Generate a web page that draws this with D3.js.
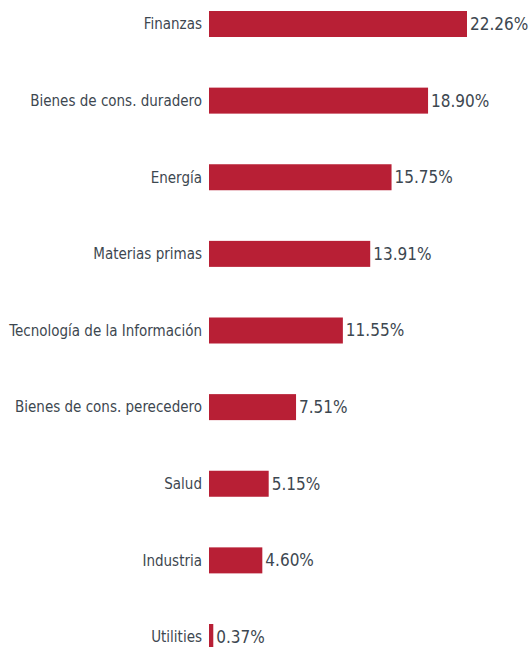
<!DOCTYPE html>
<html>
<head>
<meta charset="utf-8">
<script src="https://cdn.jsdelivr.net/npm/d3@7"></script>
<style>
  body { margin: 0; background: #fff; }
  text { font-family: "DejaVu Sans Condensed", "DejaVu Sans", sans-serif; }
</style>
</head>
<body>
<svg id="chart"></svg>
<script>
// Sector weights
const sectors = ["Finanzas", "Bienes de cons. duradero", "Energía", "Materias primas",
  "Tecnología de la Información", "Bienes de cons. perecedero", "Salud", "Industria", "Utilities"];
const weights = [22.26, 18.90, 15.75, 13.91, 11.55, 7.51, 5.15, 4.60, 0.37];

let width = 529, height = 647;

const svg = d3.select("#chart")
  .attr("width", width)
  .attr("height", height);

const x = d3.scaleLinear()
  .domain([0, 22.26])
  .range([209, 467]);

const y = d3.scalePoint()
  .domain(sectors)
  .range([24, 637]);

const barH = 26;

const rows = svg.selectAll(".row")
  .data(sectors.map((s, i) => ({ sector: s, value: weights[i] })))
  .enter()
  .append("g")
  .attr("class", "row");

rows.append("rect")
  .attr("x", x(0))
  .attr("y", d => y(d.sector) - barH / 2)
  .attr("width", d => x(d.value) - x(0))
  .attr("height", barH)
  .attr("fill", "#b81f35");

rows.append("text")
  .attr("x", x(0) - 7)
  .attr("y", d => y(d.sector))
  .attr("dy", "0.35em")
  .attr("text-anchor", "end")
  .attr("font-size", 15)
  .attr("fill", "#3d4750")
  .text(d => d.sector);

rows.append("text")
  .attr("x", d => x(d.value) + 3)
  .attr("y", d => y(d.sector))
  .attr("dy", "0.35em")
  .attr("font-size", 17)
  .attr("fill", "#3d4750")
  .text(d => d.value.toFixed(2) + "%");
</script>
</body>
</html>
